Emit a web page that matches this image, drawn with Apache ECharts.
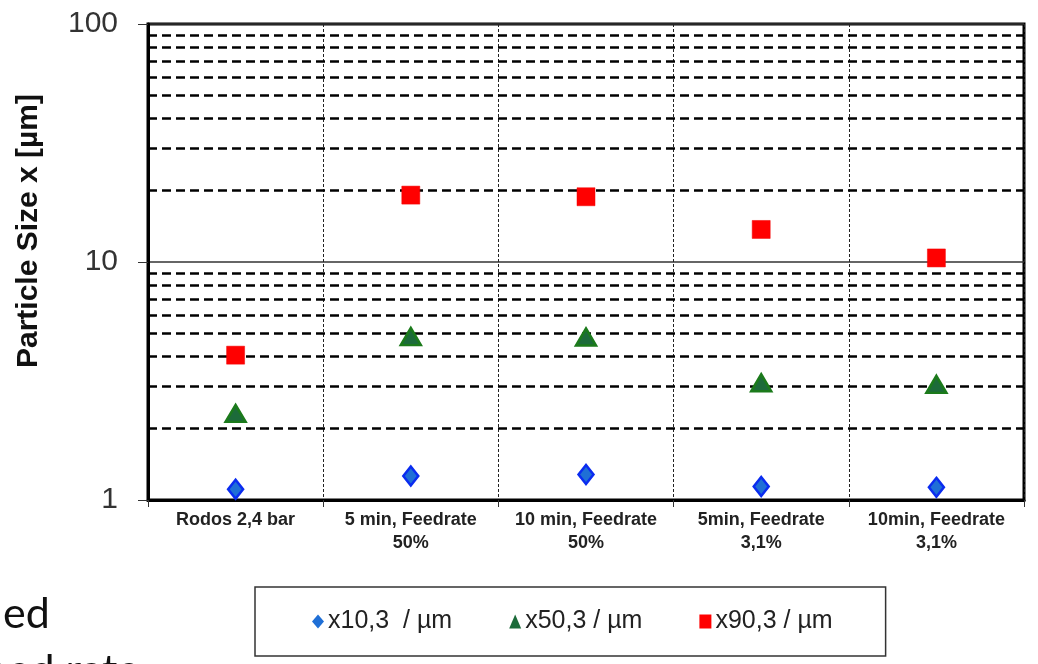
<!DOCTYPE html>
<html>
<head>
<meta charset="utf-8">
<script src="https://cdn.jsdelivr.net/npm/echarts@6/dist/echarts.min.js"></script>
<style>
  html, body { margin: 0; padding: 0; background: #fff; }
  #chart { width: 1038px; height: 664px; }
</style>
</head>
<body>
<div id="chart"></div>
<script>
// Milling conditions (x axis)
const categories = [
  'Rodos 2,4 bar',
  '5 min, Feedrate\n50%',
  '10 min, Feedrate\n50%',
  '5min, Feedrate\n3,1%',
  '10min, Feedrate\n3,1%'
];

// Characteristic particle sizes in µm
const x10 = [1.11, 1.26, 1.28, 1.14, 1.13];
const x50 = [2.31, 4.86, 4.84, 3.11, 3.06];
const x90 = [4.06, 19.1, 18.8, 13.7, 10.4];

const seriesNames = ['x10,3  / µm', 'x50,3 / µm', 'x90,3 / µm'];

// Intermediate log-scale gridline values (dashed)
const minorGrid = [2, 3, 4, 5, 6, 7, 8, 9, 20, 30, 40, 50, 60, 70, 80, 90];

const chart = echarts.init(document.getElementById('chart'), null, { renderer: 'canvas' });

const baseFont = 'Liberation Sans, Arial, sans-serif';

chart.setOption({
  animation: false,
  backgroundColor: '#ffffff',
  grid: {
    left: 148, right: 14, top: 24, bottom: 164,
    show: true,
    borderColor: '#000',
    borderWidth: 3,
    backgroundColor: 'transparent'
  },
  legend: {
    data: seriesNames,
    left: 255,
    top: 587,
    orient: 'horizontal',
    padding: [22, 53, 22, 57],
    itemGap: 57,
    itemWidth: 12,
    itemHeight: 14,
    itemStyle: { borderWidth: 0, opacity: 1 },
    borderColor: '#333',
    borderWidth: 1.5,
    textStyle: { fontFamily: baseFont, fontSize: 25, color: '#222', padding: [0, 0, 0, -1] }
  },
  xAxis: {
    type: 'category',
    data: categories,
    boundaryGap: true,
    axisLine: { show: true, lineStyle: { color: '#000', width: 3 } },
    axisTick: { show: true, interval: 0, length: 7, lineStyle: { color: '#333', width: 1 } },
    axisLabel: {
      interval: 0,
      margin: 9,
      fontFamily: baseFont,
      fontWeight: 'bold',
      fontSize: 18,
      lineHeight: 23,
      color: '#222'
    },
    splitLine: { show: true, interval: 0, lineStyle: { color: '#222', width: 1, type: [3, 2] } }
  },
  yAxis: {
    type: 'log',
    logBase: 10,
    min: 1,
    max: 100,
    name: 'Particle Size x [µm]',
    nameLocation: 'middle',
    nameGap: 104,
    nameTextStyle: {
      fontFamily: baseFont,
      fontWeight: 'bold',
      fontSize: 30,
      color: '#111',
      padding: [0, 0, 0, 62]
    },
    axisLine: { show: true, lineStyle: { color: '#000', width: 3 } },
    axisTick: { show: true, inside: false, length: 10, lineStyle: { color: '#333', width: 1 } },
    axisLabel: { margin: 30, fontFamily: baseFont, fontSize: 30, color: '#333' },
    splitLine: { show: true, lineStyle: { color: '#333', width: 1.5, type: 'solid' } },
    minorTick: { show: false },
    minorSplitLine: { show: false }
  },
  series: [
    {
      name: 'grid-minor',
      type: 'line',
      data: [],
      silent: true,
      z: 1,
      markLine: {
        silent: true,
        symbol: ['none', 'none'],
        label: { show: false },
        lineStyle: { color: '#000', width: 2.5, type: [9, 5] },
        emphasis: { disabled: true },
        data: minorGrid.map(v => ({ yAxis: v }))
      }
    },
    {
      name: seriesNames[0],
      type: 'scatter',
      data: x10,
      z: 5,
      symbol: 'diamond',
      symbolSize: [15, 19],
      itemStyle: { color: '#1f6fd6', borderColor: '#0a2cf0', borderWidth: 2.5, opacity: 1 }
    },
    {
      name: seriesNames[1],
      type: 'scatter',
      data: x50,
      z: 5,
      symbol: 'triangle',
      symbolSize: [20, 17],
      itemStyle: { color: '#1c6b3a', borderColor: '#1b7a1b', borderWidth: 2.5, opacity: 1 }
    },
    {
      name: seriesNames[2],
      type: 'scatter',
      data: x90,
      z: 5,
      symbol: 'rect',
      symbolSize: 18,
      itemStyle: { color: '#ff0000', borderColor: '#f00000', borderWidth: 0.5, opacity: 1 }
    }
  ],
  graphic: [
    {
      type: 'text',
      left: 3,
      top: 593,
      style: { text: 'ed', font: '43px Lato, "Open Sans", sans-serif', fill: '#111' }
    },
    {
      type: 'text',
      left: -15,
      top: 650,
      style: { text: 'eed rate', font: '43px Lato, "Open Sans", sans-serif', fill: '#111' }
    }
  ]
});
</script>
</body>
</html>
